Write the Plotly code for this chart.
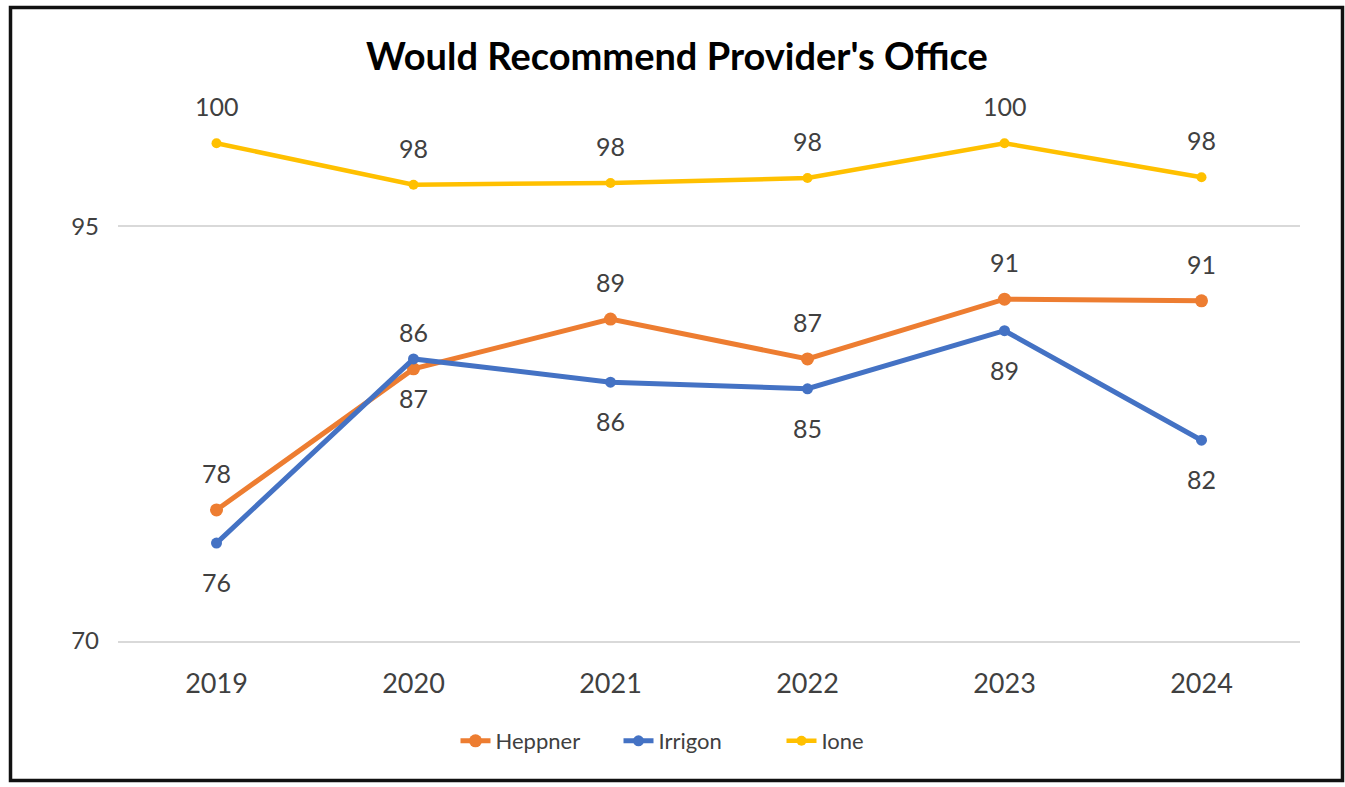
import plotly.graph_objects as go

years = ["2019", "2020", "2021", "2022", "2023", "2024"]
heppner = [77.9, 86.4, 89.4, 87.0, 90.6, 90.5]
irrigon = [75.9, 87.0, 85.6, 85.2, 88.7, 82.1]
ione = [100.0, 97.5, 97.6, 97.9, 100.0, 97.95]
heppner_labels = ["78", "86", "89", "87", "91", "91"]
irrigon_labels = ["76", "87", "86", "85", "89", "82"]
ione_labels = ["100", "98", "98", "98", "100", "98"]

W, H = 1345, 787
L, R, T, B = 118, 45, 110, 146
pw, ph = W - L - R, H - T - B

font = "Lato, Calibri, Arial, sans-serif"
txt = "#404040"
orange, blue, yellow = "#ED7D31", "#4472C4", "#FFC000"

fig = go.Figure()
fig.add_trace(go.Scatter(x=years, y=heppner, name="Heppner", mode="lines+markers",
                         line=dict(color=orange, width=5), marker=dict(size=13, color=orange)))
fig.add_trace(go.Scatter(x=years, y=irrigon, name="Irrigon", mode="lines+markers",
                         line=dict(color=blue, width=5), marker=dict(size=11, color=blue)))
fig.add_trace(go.Scatter(x=years, y=ione, name="Ione", mode="lines+markers",
                         line=dict(color=yellow, width=4.5), marker=dict(size=10, color=yellow)))

lab_font = dict(size=25, color=txt, family=font)
annos = []
for i, (y, t) in enumerate(zip(heppner, heppner_labels)):
    annos.append(dict(x=i, y=y, xref="x", yref="y", text=t, showarrow=False, yshift=37, font=lab_font))
for i, (y, t) in enumerate(zip(irrigon, irrigon_labels)):
    annos.append(dict(x=i, y=y, xref="x", yref="y", text=t, showarrow=False, yshift=-39, font=lab_font))
for i, (y, t) in enumerate(zip(ione, ione_labels)):
    annos.append(dict(x=i, y=y, xref="x", yref="y", text=t, showarrow=False, yshift=37, font=lab_font))

def px_x(p):
    return (p - L) / pw

def px_y(p):
    return (H - B - p) / ph

fig.update_layout(
    width=W, height=H,
    margin=dict(l=L, r=R, t=T, b=B),
    paper_bgcolor="white", plot_bgcolor="white",
    font=dict(family=font, color=txt),
    title=dict(text="<b>Would Recommend Provider's Office</b>", x=677 / W, xanchor="center",
               y=1 - 57 / H, yanchor="middle", font=dict(size=38, color="#000000", family=font)),
    xaxis=dict(type="category", range=[-0.5, 5.5], showgrid=False, zeroline=False,
               showline=True, linecolor="#D9D9D9", linewidth=2,
               ticks="", tickfont=dict(size=27, color=txt), ticklabelstandoff=18),
    yaxis=dict(range=[70, 102], tick0=70, dtick=25, showgrid=True, gridcolor="#D9D9D9", gridwidth=2,
               zeroline=False, showline=False, ticks="", tickfont=dict(size=24, color=txt),
               ticklabelstandoff=18),
    legend=dict(orientation="h", x=px_x(700), xanchor="center", y=px_y(741), yanchor="middle",
                font=dict(size=22, color=txt), traceorder="normal",
                entrywidth=118, entrywidthmode="pixels"),
    annotations=annos,
    shapes=[dict(type="rect", xref="paper", yref="paper",
                 x0=px_x(10.5), x1=px_x(1342.5), y0=px_y(780.5), y1=px_y(7.5),
                 line=dict(color="#111111", width=3.5), layer="above")],
)

fig.write_html("out.html", config={"displayModeBar": False},
               post_script="document.body.style.margin='0';document.body.style.overflow='hidden';")
